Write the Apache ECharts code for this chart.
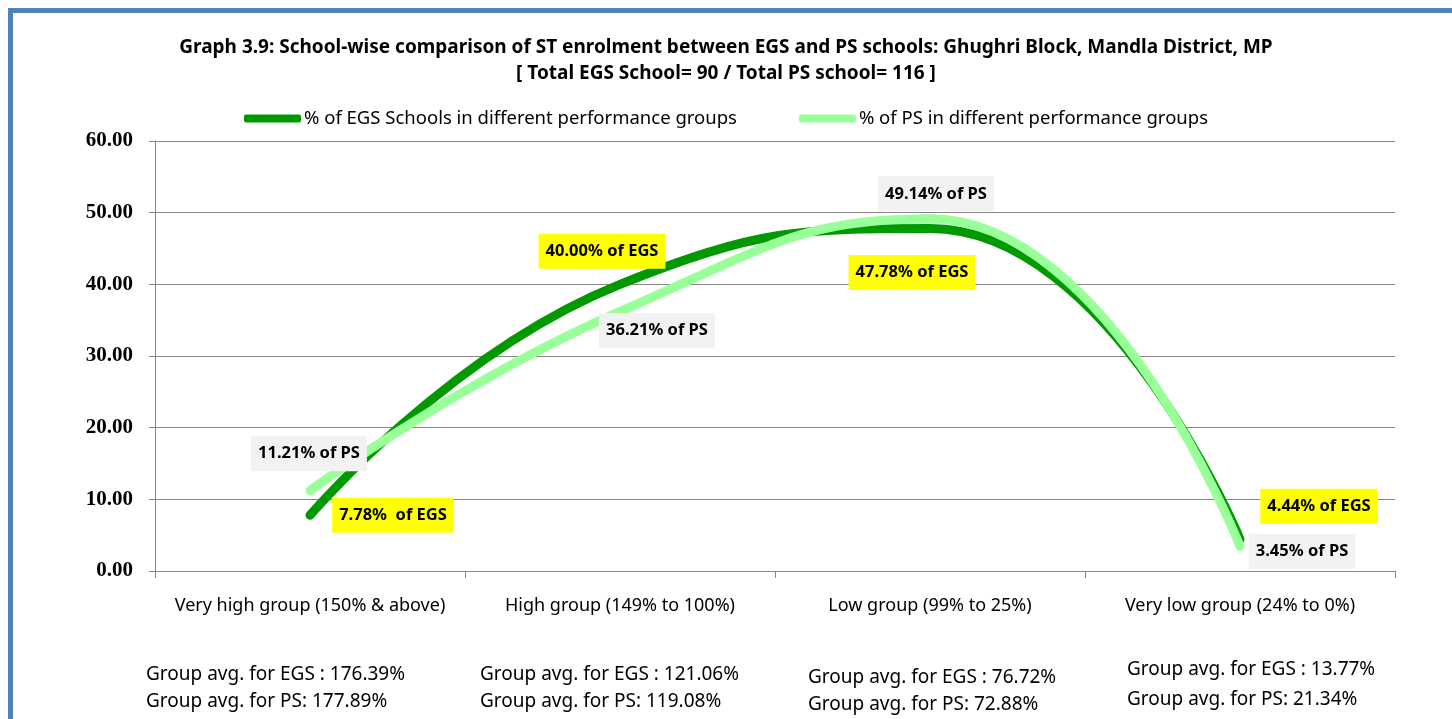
<!DOCTYPE html>
<html>
<head>
<meta charset="utf-8">
<script src="https://cdn.jsdelivr.net/npm/echarts@6/dist/echarts.min.js"></script>
<style>
html,body{margin:0;padding:0;background:#fff;}
#c{width:1452px;height:719px;}
</style>
</head>
<body>
<div id="c"></div>
<script>
// ---- data ----
var categories = ['Very high group (150% & above)', 'High group (149% to 100%)', 'Low group (99% to 25%)', 'Very low group (24% to 0%)'];
var egsValues = [7.78, 40.00, 47.78, 4.44];
var psValues = [11.21, 36.21, 49.14, 3.45];
var egsLabels = ['7.78%  of EGS', '40.00% of EGS', '47.78% of EGS', '4.44% of EGS'];
var psLabels = ['11.21% of PS', '36.21% of PS', '49.14% of PS', '3.45% of PS'];
var egsAvg = ['Group avg. for EGS : 176.39%', 'Group avg. for EGS : 121.06%', 'Group avg. for EGS : 76.72%', 'Group avg. for EGS : 13.77%'];
var psAvg = ['Group avg. for PS: 177.89%', 'Group avg. for PS: 119.08%', 'Group avg. for PS: 72.88%', 'Group avg. for PS: 21.34%'];
var yTicks = {min: 0, max: 60, interval: 10};
var seriesNames = ['% of EGS Schools in different performance groups', '% of PS in different performance groups'];
var titleText = 'Graph 3.9: School-wise comparison of ST enrolment between EGS and PS schools: Ghughri Block, Mandla District, MP';
var subtitleText = '[ Total EGS School= 90 / Total PS school= 116 ]';

// ---- styles / label placement (not data) ----
var egsOffsets = [[83, 0], [-18, -33], [-18, 44], [79, -33]];
var psOffsets = [[-1, -37], [37, 19], [6, -25], [62, 5]];
var avgDx = [-164, -140, -122, -113];
var avgY = [[675, 702], [675, 702], [678, 705], [670, 700]];
var FONT = '"Noto Sans", "Open Sans", sans-serif';

function makeItems(vals, labels, offsets, bg) {
  return vals.map(function (v, i) {
    return {
      value: v,
      label: {
        show: true, position: 'inside', offset: offsets[i],
        formatter: labels[i],
        backgroundColor: bg, padding: [9, 7, 9, 7],
        color: '#000', fontFamily: FONT, fontWeight: 'bold', fontSize: 16.5
      }
    };
  });
}

var chart = echarts.init(document.getElementById('c'));
var option = {
  backgroundColor: '#fff',
  animation: false,
  title: {
    text: titleText,
    subtext: subtitleText,
    left: 'center', top: 33, itemGap: 7,
    textStyle: {fontFamily: FONT, fontWeight: 'bold', fontSize: 19, color: '#000'},
    subtextStyle: {fontFamily: FONT, fontWeight: 'bold', fontSize: 19, color: '#000'}
  },
  legend: {
    top: 104, left: 'center', itemGap: 62,
    itemWidth: 57, itemHeight: 8, icon: 'roundRect',
    textStyle: {fontFamily: FONT, fontSize: 18.5, color: '#000', padding: [0, 0, 0, -2]},
    data: seriesNames
  },
  grid: {left: 155, right: 57, top: 141, bottom: 148, containLabel: false},
  xAxis: {
    type: 'category', data: categories, boundaryGap: true,
    axisLine: {lineStyle: {color: '#868686', width: 1}},
    axisTick: {show: true, length: 7, alignWithLabel: false, lineStyle: {color: '#868686'}},
    axisLabel: {margin: 26, fontFamily: FONT, fontSize: 18, color: '#000', interval: 0}
  },
  yAxis: {
    type: 'value', min: yTicks.min, max: yTicks.max, interval: yTicks.interval,
    axisLine: {show: true, lineStyle: {color: '#868686'}},
    axisTick: {show: true, length: 6, lineStyle: {color: '#868686'}},
    splitLine: {lineStyle: {color: '#868686', width: 1}},
    axisLabel: {
      margin: 22, fontFamily: '"Liberation Serif", serif', fontWeight: 'bold', fontSize: 21, color: '#000',
      formatter: function (v) { return v.toFixed(2); }
    }
  },
  series: [
    {
      name: seriesNames[0], type: 'line', smooth: 0.5,
      showSymbol: true, symbol: 'circle', symbolSize: 2,
      color: '#009900', itemStyle: {color: '#009900'},
      lineStyle: {width: 9, color: '#009900', cap: 'round'},
      data: makeItems(egsValues, egsLabels, egsOffsets, '#ffff00'),
      z: 2
    },
    {
      name: seriesNames[1], type: 'line', smooth: 0.5,
      showSymbol: true, symbol: 'circle', symbolSize: 2,
      color: '#99ff99', itemStyle: {color: '#99ff99'},
      lineStyle: {width: 9, color: '#99ff99', cap: 'round'},
      data: makeItems(psValues, psLabels, psOffsets, '#f2f2f2'),
      z: 3
    }
  ]
};
chart.setOption(option);

var g = [{
  type: 'rect', left: 8, top: 8, silent: true,
  shape: {width: 1460, height: 760},
  style: {fill: 'none', stroke: '#4f81bd', lineWidth: 5}
}];
categories.forEach(function (c, i) {
  var px = chart.convertToPixel({xAxisIndex: 0}, i);
  [egsAvg[i], psAvg[i]].forEach(function (t, j) {
    g.push({
      type: 'text', x: px + avgDx[i], y: avgY[i][j], silent: true,
      style: {text: t, fontFamily: FONT, fontSize: 19, fill: '#000', align: 'left', verticalAlign: 'middle'}
    });
  });
});
chart.setOption({graphic: g});
</script>
</body>
</html>
